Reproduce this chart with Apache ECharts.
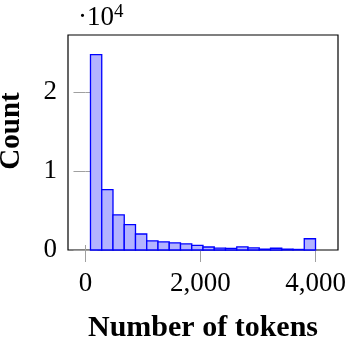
<!DOCTYPE html>
<html>
<head>
<meta charset="utf-8">
<script src="https://cdn.jsdelivr.net/npm/echarts@6/dist/echarts.min.js"></script>
<style>
  html, body { margin: 0; padding: 0; background: #fff; }
  #chart { width: 350px; height: 342px; }
</style>
</head>
<body>
<div id="chart"></div>
<script>
// 直方图数据：20个区间，从 87 到 4000 个 token
const binStart = 87;
const binEnd = 4000;
const binCounts = [24800, 7650, 4460, 3220, 2030, 1150, 1030, 900, 770, 590,
                   380, 230, 200, 400, 260, 110, 220, 110, 70, 1430];
const xTicks = [0, 2000, 4000];
const yTicks = [0, 10000, 20000];

const binWidth = (binEnd - binStart) / binCounts.length;
const bins = binCounts.map((c, i) => [binStart + i * binWidth, binStart + (i + 1) * binWidth, c]);

const font = '"Liberation Serif", "DejaVu Serif", serif';
const tickColor = '#a0a0a0';

const chart = echarts.init(document.getElementById('chart'));

function xAxisCfg(pos, showLabel) {
    return {
        type: 'value',
        position: pos,
        min: -304,
        max: 4391,
        splitLine: { show: false },
        axisLine: { show: false },
        axisTick: {
            show: true, inside: false, length: pos === 'top' ? 5 : 12,
            customValues: xTicks,
            lineStyle: { color: tickColor, width: 1 }
        },
        axisLabel: {
            show: showLabel,
            customValues: xTicks,
            formatter: v => v.toLocaleString('en-US'),
            fontFamily: font, fontSize: 27, color: '#000', margin: 20
        }
    };
}

function yAxisCfg(pos, showLabel) {
    return {
        type: 'value',
        position: pos,
        min: 0,
        max: 27280,
        splitLine: { show: false },
        axisLine: { show: false },
        axisTick: {
            show: true, inside: true, length: 12,
            customValues: yTicks,
            lineStyle: { color: tickColor, width: 1 }
        },
        axisLabel: {
            show: showLabel,
            customValues: yTicks,
            formatter: v => String(v / 10000),
            fontFamily: font, fontSize: 27, color: '#000', margin: 11
        }
    };
}

const option = {
    animation: false,
    grid: {
        left: 68, right: 12, top: 35, bottom: 92,
        show: true, borderColor: '#000', borderWidth: 1.2,
        backgroundColor: 'transparent'
    },
    xAxis: [xAxisCfg('bottom', true), xAxisCfg('top', false)],
    yAxis: [yAxisCfg('left', true), yAxisCfg('right', false)],
    graphic: [
        {
            type: 'text', left: 78, top: 3,
            style: {
                text: '{a|·10}{b|4}',
                rich: {
                    a: { fontFamily: font, fontSize: 27, fill: '#000' },
                    b: { fontFamily: font, fontSize: 19, fill: '#000', verticalAlign: 'top', padding: [0, 0, 10, 0] }
                }
            }
        },
        {
            type: 'text', x: 203, y: 328,
            style: {
                text: 'Number of tokens', fontFamily: font, fontSize: 30, fontWeight: 'bold',
                fill: '#000', align: 'center', verticalAlign: 'middle'
            }
        },
        {
            type: 'text', x: 12, y: 131, rotation: Math.PI / 2,
            style: {
                text: 'Count', fontFamily: font, fontSize: 29, fontWeight: 'bold',
                fill: '#000', align: 'center', verticalAlign: 'middle'
            }
        }
    ],
    series: [
        {
            type: 'custom',
            xAxisIndex: 0,
            yAxisIndex: 0,
            data: bins,
            renderItem: function (params, api) {
                const p0 = api.coord([api.value(0), api.value(2)]);
                const p1 = api.coord([api.value(1), 0]);
                return {
                    type: 'rect',
                    shape: { x: p0[0], y: p0[1], width: p1[0] - p0[0], height: p1[1] - p0[1] },
                    style: { fill: '#b3b3ff', stroke: '#0000ff', lineWidth: 1.3 }
                };
            }
        }
    ]
};

chart.setOption(option);
</script>
</body>
</html>
